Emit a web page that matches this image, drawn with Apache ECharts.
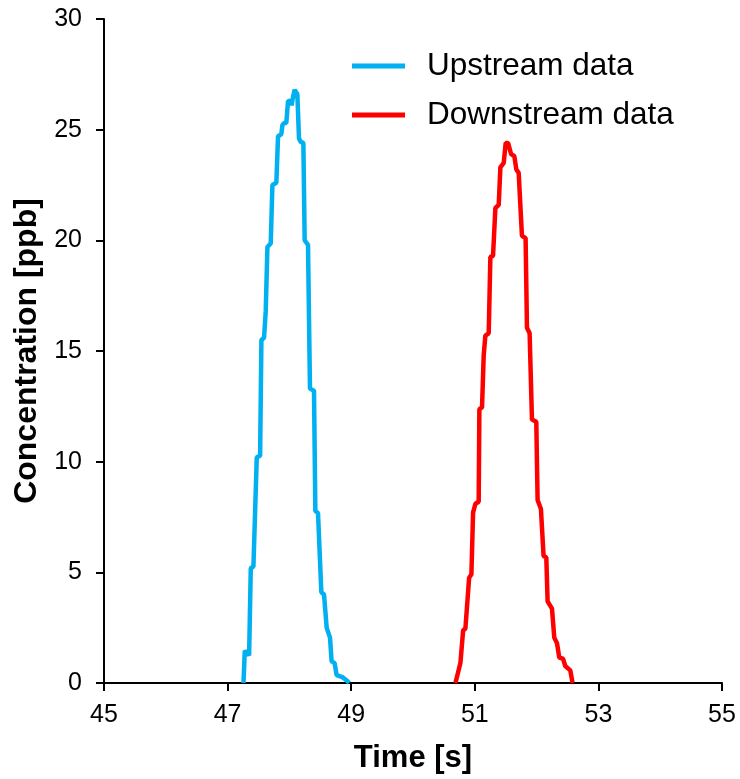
<!DOCTYPE html>
<html>
<head>
<meta charset="utf-8">
<script src="https://cdn.jsdelivr.net/npm/echarts@6/dist/echarts.min.js"></script>
<style>html,body{margin:0;padding:0;background:#fff}#c{width:740px;height:779px}</style>
</head>
<body>
<div id="c"></div>
<script>
var upTime = [47.257,47.278,47.348,47.375,47.418,47.472,47.526,47.547,47.590,47.617,47.644,47.698,47.725,47.789,47.816,47.870,47.886,47.913,47.950,47.978,48.020,48.035,48.053,48.085,48.129,48.155,48.183,48.226,48.247,48.301,48.333,48.398,48.420,48.463,48.517,48.560,48.603,48.657,48.683,48.732,48.764,48.856,48.937,48.965];
var upConc = [0,1.46,1.25,5.18,5.27,10.2,10.27,15.5,15.6,16.8,19.7,19.86,22.5,22.6,24.7,24.8,25.2,25.3,25.3,26.3,26.3,26.1,26.4,26.8,26.6,24.6,24.45,24.4,20.0,19.8,13.3,13.2,7.77,7.68,4.1,4.0,2.5,2.05,0.98,0.9,0.36,0.27,0.09,0];
var downTime = [50.687,50.767,50.795,50.811,50.848,50.870,50.908,50.945,50.972,51.010,51.063,51.074,51.117,51.144,51.171,51.225,51.252,51.295,51.333,51.387,51.414,51.468,51.500,51.538,51.587,51.640,51.672,51.710,51.763,51.822,51.844,51.887,51.925,51.995,52.016,52.070,52.113,52.157,52.178,52.249,52.286,52.330,52.367,52.427,52.464,52.545,52.582];
var downConc = [0,0.9,0.98,2.37,2.46,2.42,4.75,4.91,7.7,8.1,8.19,12.37,12.45,14.8,15.7,15.8,19.25,19.3,21.46,21.6,23.3,23.5,24.4,24.4,23.9,23.8,23.2,23.05,20.2,20.1,16.05,15.8,11.9,11.8,8.27,7.86,5.73,5.68,3.69,3.36,2.05,1.8,1.15,1.1,0.77,0.57,0];
var xTicks = [45,47,49,51,53,55];
var yTicks = [0,5,10,15,20,25,30];
var seriesNames = ['Upstream data','Downstream data'];

function pairs(a,b){return a.map(function(v,i){return [v,b[i]];});}
var font = 'Liberation Sans, Arial, sans-serif';
var chart = echarts.init(document.getElementById('c'));
chart.setOption({
  animation:false,
  backgroundColor:'#fff',
  grid:{left:104,right:18,top:19,bottom:94,containLabel:false},
  legend:{
    data:seriesNames,
    orient:'vertical',
    left:347,top:45,
    itemWidth:53,itemHeight:5,itemGap:17,
    icon:'rect',
    textStyle:{fontFamily:font,fontSize:31.5,lineHeight:31,color:'#000',padding:[0,0,0,17]}
  },
  xAxis:{
    type:'value',min:45,max:55,interval:2,
    name:'Time [s]',nameLocation:'middle',nameGap:60,
    nameTextStyle:{fontFamily:font,fontSize:31,fontWeight:'bold',color:'#000'},
    axisLine:{lineStyle:{color:'#000',width:2}},
    axisTick:{show:true,inside:false,length:8,lineStyle:{color:'#000',width:2}},
    axisLabel:{fontFamily:font,fontSize:25,color:'#000',margin:20,
      formatter:function(v){return xTicks.indexOf(v)>=0?String(v):'';}},
    splitLine:{show:false}
  },
  yAxis:{
    type:'value',min:0,max:30,interval:5,
    name:'Concentration [ppb]',nameLocation:'middle',nameGap:61,
    nameTextStyle:{fontFamily:font,fontSize:32,fontWeight:'bold',color:'#000'},
    axisLine:{show:true,lineStyle:{color:'#000',width:2}},
    axisTick:{show:true,inside:false,length:8,lineStyle:{color:'#000',width:2}},
    axisLabel:{fontFamily:font,fontSize:25,color:'#000',margin:22,
      formatter:function(v){return yTicks.indexOf(v)>=0?String(v):'';}},
    splitLine:{show:false}
  },
  series:[
    {name:seriesNames[0],type:'line',data:pairs(upTime,upConc),showSymbol:false,symbol:'none',
      lineStyle:{color:'#00B0F0',width:4.5},itemStyle:{color:'#00B0F0'}},
    {name:seriesNames[1],type:'line',data:pairs(downTime,downConc),showSymbol:false,symbol:'none',
      lineStyle:{color:'#FF0000',width:4.5},itemStyle:{color:'#FF0000'}}
  ]
});
</script>
</body>
</html>
